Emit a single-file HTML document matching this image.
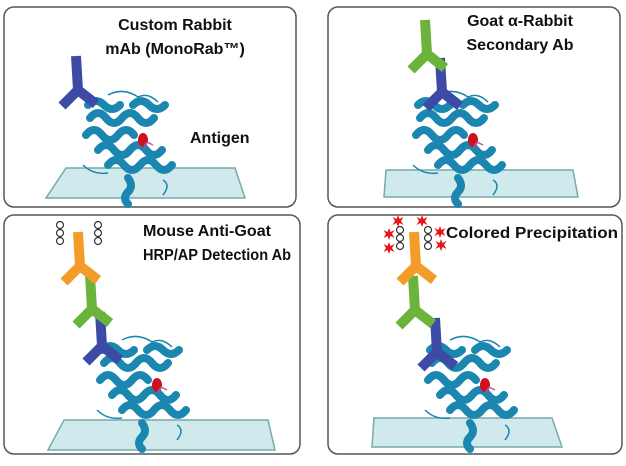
<!DOCTYPE html>
<html><head><meta charset="utf-8"><style>
body{margin:0;background:#fff;width:626px;height:461px;overflow:hidden}
text{font-family:"Liberation Sans",sans-serif;font-weight:bold;font-size:16px;fill:#111}
</style></head><body>
<svg width="626" height="461" viewBox="0 0 626 461">
<defs>
<g id="prot">
<g fill="none" stroke="#1b86b0" stroke-width="8" stroke-linecap="round">
<path d="M-38,-22 q8,-10 16,0 q8,10 16,0 q8,-10 16,0 q8,10 16,0"/>
<path d="M-42,-5 q8,-10 16,0 q8,10 16,0 q8,-10 16,0"/>
<path d="M-30,10 q8,-10 16,0 q8,10 16,0 q8,-10 16,0 q8,10 16,0"/>
<path d="M-20,25 q8,-10 16,0 q8,10 16,0 q8,-10 16,0 q8,10 16,0"/>
<path d="M-40,-35 q8,-8 16,0 q8,8 16,0"/>
<path d="M5,-35 q8,-8 16,0 q8,8 16,0"/>
<path d="M0,38 q6,8 0,14 q-6,6 0,12"/>
</g>
<g fill="none" stroke="#1b86b0" stroke-width="1.5">
<path d="M-45,25 q10,10 25,8"/><path d="M-20,-45 q15,-8 30,2 q10,-5 20,5"/><path d="M35,40 q8,5 0,15"/>
</g>
<ellipse cx="15" cy="0" rx="5" ry="7" fill="#d01020"/>
<path d="M25,5 l-6,-3 m0,0 l-3,5" stroke="#b59" stroke-width="1.5"/>
</g>
<g id="ab"><path d="M0,0 L2,34 M2,34 L-14,50 M2,34 L20,48" fill="none" stroke-width="10" stroke-linejoin="bevel"/></g>
<g id="beads" fill="#fff" stroke="#333" stroke-width="1.2"><circle r="3.5"/><circle cy="8" r="3.5"/><circle cy="16" r="3.5"/></g>
<path id="star" d="M0,-6 L1.5,-2 L5.5,-4 L3,0 L5.5,4 L1.5,2 L0,6 L-1.5,2 L-5.5,4 L-3,0 L-5.5,-4 L-1.5,-2Z" fill="#e8141c"/>
</defs>
<g fill="none" stroke="#555" stroke-width="1.5">
<rect x="4" y="7" width="292" height="200" rx="10"/>
<rect x="328" y="7" width="292" height="200" rx="10"/>
<rect x="4" y="215" width="296" height="239" rx="10"/>
<rect x="328" y="215" width="294" height="239" rx="10"/>
</g>
<g fill="#cfe9ec" stroke="#7aa" stroke-width="1.5">
<path d="M66,168 H235 L245,198 H46Z"/>
<path d="M386,170 H573 L578,197 H384Z"/>
<path d="M64,420 H268 L275,450 H48Z"/>
<path d="M374,418 H552 L562,447 H372Z"/>
</g>
<use href="#prot" x="128" y="140"/>
<use href="#prot" x="458" y="140"/>
<use href="#prot" x="142" y="385"/>
<use href="#prot" x="470" y="385"/>
<g stroke="#3d4aa6"><use href="#ab" x="76" y="56"/><use href="#ab" x="440" y="58"/><use href="#ab" x="100" y="312"/><use href="#ab" x="435" y="318"/></g>
<g stroke="#6bb33a"><use href="#ab" x="425" y="20"/><use href="#ab" x="90" y="275"/><use href="#ab" x="413" y="276"/></g>
<g stroke="#f39c2a"><use href="#ab" x="78" y="232"/><use href="#ab" x="414" y="232"/></g>
<use href="#beads" x="60" y="225"/><use href="#beads" x="98" y="225"/>
<use href="#beads" x="400" y="230"/><use href="#beads" x="428" y="230"/>
<use href="#star" x="398" y="221"/><use href="#star" x="422" y="221"/><use href="#star" x="389" y="234"/><use href="#star" x="440" y="232"/><use href="#star" x="389" y="248"/><use href="#star" x="441" y="245"/>
<text x="175" y="30" text-anchor="middle">Custom Rabbit</text>
<text x="175" y="54" text-anchor="middle">mAb (MonoRab™)</text>
<text x="190" y="143">Antigen</text>
<text x="520" y="26" text-anchor="middle">Goat α-Rabbit</text>
<text x="520" y="50" text-anchor="middle">Secondary Ab</text>
<text x="143" y="236" textLength="128" lengthAdjust="spacingAndGlyphs">Mouse Anti-Goat</text>
<text x="143" y="260" textLength="148" lengthAdjust="spacingAndGlyphs">HRP/AP Detection Ab</text>
<text x="446" y="238" textLength="172" lengthAdjust="spacingAndGlyphs">Colored Precipitation</text>
</svg>
</body></html>
